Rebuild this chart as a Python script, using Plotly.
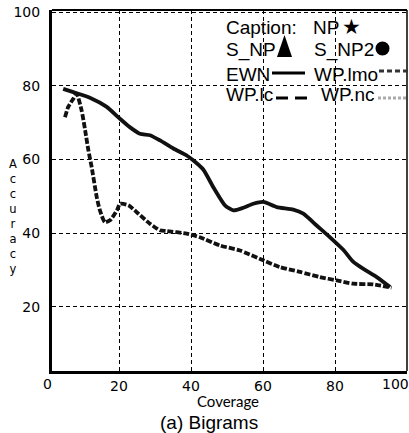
import plotly.graph_objects as go

# ---------------- data ----------------
ewn_x = [4.5, 7.3, 11.9, 16.6, 20.0, 23.0, 25.8, 28.6, 31.4, 35.1, 38.8, 40.6, 43.4, 46.2,
         49.5, 51.8, 54.5, 57.3, 60.1, 63.8, 68.4, 71.2, 74.9, 78.6, 82.3, 85.1, 87.9, 91.6, 95.3]
ewn_y = [79.2, 78.3, 76.8, 74.3, 71.3, 68.8, 67.0, 66.6, 65.2, 63.0, 61.1, 59.8, 57.3, 52.5,
         47.5, 46.2, 46.9, 48.0, 48.5, 47.1, 46.4, 45.3, 42.1, 38.9, 35.5, 32.2, 30.3, 28.1, 25.4]

wplc_x = [5.0, 5.9, 7.3, 8.2, 9.6, 10.6, 11.5, 12.4, 13.8, 14.7, 16.1, 17.5, 19.4, 20.3, 22.6,
          25.4, 28.6, 31.4, 33.2, 38.8, 42.5, 48.0, 53.6, 59.2, 64.7, 70.3, 75.8, 80.5, 85.1,
          90.6, 95.7]
wplc_y = [71.5, 74.3, 76.5, 77.9, 73.4, 67.9, 62.5, 58.0, 49.9, 46.2, 43.0, 43.5, 46.2, 48.0, 47.6,
          45.3, 42.6, 40.8, 40.6, 39.9, 38.9, 36.7, 35.3, 33.0, 30.8, 29.5, 28.1, 27.2, 26.3,
          26.1, 25.2]

x_ticks = [20, 40, 60, 80]
x_edge_labels = ["0", "100"]
y_ticks = [20, 40, 60, 80, 100]
y_title = "Accuracy"
x_title = "Coverage"
caption = "(a) Bigrams"

# ---------------- layout helpers ----------------
W, H = 409, 433
L, R, T, B = 52, 2, 10, 62
PW, PH = W - L - R, H - T - B


def px(xp):
    return (xp - L) / PW


def py(yp):
    return (H - B - yp) / PH


fig = go.Figure()
fig.add_trace(go.Scatter(x=ewn_x, y=ewn_y, mode="lines",
                         line=dict(color="#111111", width=3.8, shape="spline", smoothing=0.6),
                         showlegend=False, hoverinfo="skip"))
fig.add_trace(go.Scatter(x=wplc_x, y=wplc_y, mode="lines",
                         line=dict(color="#111111", width=3.8, shape="spline", smoothing=0.6,
                                   dash="6px,2px"),
                         showlegend=False, hoverinfo="skip"))

grid = dict(showgrid=True, gridcolor="#000000", gridwidth=1, griddash="4px,3px",
            zeroline=False, showline=True, linecolor="#000000", linewidth=3,
            tickfont=dict(family="DejaVu Sans", size=14, color="#000000"))

fig.update_xaxes(range=[1.39, 100.0], tickvals=x_ticks, ticks="", **grid)
fig.update_yaxes(range=[2.6, 100.6], tickvals=y_ticks, ticks="outside", ticklen=6,
                 tickcolor="rgba(0,0,0,0)", **grid)

shapes = [
    dict(type="line", xref="paper", yref="paper", x0=0, x1=1, y0=1, y1=1,
         line=dict(color="#000000", width=2)),
    dict(type="line", xref="paper", yref="paper", x0=1, x1=1, y0=0, y1=1,
         line=dict(color="#000000", width=1.5)),
    # legend symbols
    dict(type="path", xref="paper", yref="paper",
         path="M {:.4f} {:.4f} L {:.4f} {:.4f} L {:.4f} {:.4f} Z".format(
             px(277), py(57), px(292), py(57), px(284.5), py(35)),
         fillcolor="#000000", line=dict(color="#000000", width=0)),
    dict(type="circle", xref="paper", yref="paper",
         x0=px(375.5), x1=px(389.5), y0=py(55.5), y1=py(41.5),
         fillcolor="#000000", line=dict(color="#000000", width=0)),
    dict(type="line", xref="paper", yref="paper", x0=px(272), x1=px(305), y0=py(73), y1=py(73),
         line=dict(color="#000000", width=3)),
    dict(type="line", xref="paper", yref="paper", x0=px(379), x1=px(409), y0=py(71), y1=py(71),
         line=dict(color="#333333", width=3, dash="5px,3px")),
    dict(type="line", xref="paper", yref="paper", x0=px(276), x1=px(312), y0=py(98), y1=py(98),
         line=dict(color="#000000", width=3, dash="12px,7px")),
    dict(type="line", xref="paper", yref="paper", x0=px(378), x1=px(407), y0=py(98), y1=py(98),
         line=dict(color="#aaaaaa", width=3, dash="3px,2px")),
]

LEG = dict(family="Liberation Sans, Arial", size=19, color="#000000")
ann = []


def text(t, x, y, font, xanchor="left", yanchor="middle"):
    ann.append(dict(text=t, x=px(x), y=py(y), xref="paper", yref="paper", showarrow=False,
                    xanchor=xanchor, yanchor=yanchor, font=font, borderpad=0))


text("Caption:", 225, 28, LEG)
text("NP", 312, 28, LEG)
text("\u2605", 341, 27, dict(family="DejaVu Sans", size=21, color="#000000"))
text("S_NP", 225, 50, LEG)
text("S_NP2", 313, 50, LEG)
text("EWN", 225, 75, LEG)
text("WP.lmo", 313, 75, LEG)
text("WP.lc", 225, 95, LEG)
text("WP.nc", 320, 95, LEG)

TICK = dict(family="DejaVu Sans", size=14, color="#000000")
text(x_edge_labels[0], 47, 384, TICK, xanchor="center")
text(x_edge_labels[1], 395, 384, TICK, xanchor="center")

text(x_title, 228, 401, dict(family="Lato", size=15, color="#000000"), xanchor="center")
text(caption, 209, 422.5, dict(family="Liberation Sans, Arial", size=19, color="#000000"),
     xanchor="center")

# stacked vertical axis title, one letter per line
text("<br>".join(y_title), 12.5, 216,
     dict(family="DejaVu Sans", size=11.5, color="#000000"), xanchor="center")

fig.update_layout(width=W, height=H, margin=dict(l=L, r=R, t=T, b=B, autoexpand=False),
                  paper_bgcolor="#ffffff", plot_bgcolor="#ffffff",
                  shapes=shapes, annotations=ann, showlegend=False)

fig.write_html("out.html")
